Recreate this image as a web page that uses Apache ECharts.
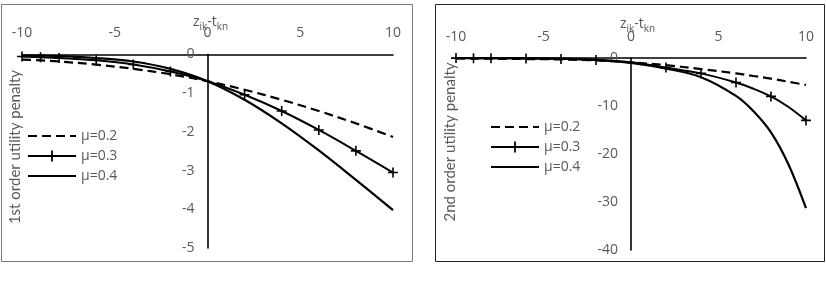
<!DOCTYPE html>
<html><head><meta charset="utf-8">
<script src="https://cdn.jsdelivr.net/npm/echarts@6/dist/echarts.min.js"></script>
<style>html,body{margin:0;padding:0;background:#fff}#c{width:826px;height:294px}</style>
</head><body><div id="c"></div>
<script>
// ---- data ----
const xTicks = [-10, -5, 0, 5, 10];
const legendNames = ['μ=0.2', 'μ=0.3', 'μ=0.4'];

// left panel: 1st order utility penalty
const xLeft = [-10, -9, -8, -6, -4, -2, 0, 2, 4, 6, 8, 10];
const left02 = [-0.13, -0.15, -0.18, -0.26, -0.37, -0.51, -0.69, -0.91, -1.17, -1.46, -1.78, -2.13];
const left03 = [-0.05, -0.07, -0.09, -0.15, -0.26, -0.44, -0.69, -1.04, -1.46, -1.95, -2.49, -3.05];
const left04 = [-0.02, -0.03, -0.04, -0.09, -0.18, -0.37, -0.69, -1.17, -1.78, -2.48, -3.24, -4.02];

// right panel: 2nd order utility penalty
const xRight = [-10, -9, -8, -6, -4, -2, 0, 2, 4, 6, 7, 8, 9, 10];
const right02 = [-0.10, -0.12, -0.15, -0.22, -0.30, -0.50, -0.90, -1.50, -2.30, -3.20, -3.75, -4.30, -4.95, -5.60];
const right03 = [-0.02, -0.03, -0.05, -0.10, -0.20, -0.40, -0.90, -2.00, -3.20, -5.10, -6.40, -8.00, -10.20, -13.00];
const right04 = [-0.01, -0.01, -0.02, -0.05, -0.12, -0.40, -1.00, -2.20, -4.00, -7.90, -11.10, -15.50, -22.20, -31.30];
const markerX = [-10, -9, -8, -6, -4, -2, 2, 4, 6, 8, 10];

const FONT = 'Open Sans';
const NAMEFONT = 'Lato';
const GRAY = '#595959';
const plus = 'path://M4.2,0h1.6v4.2h4.2v1.6h-4.2v4.2h-1.6v-4.2h-4.2v-1.6h4.2z';

function pairs(xs, ys, marked) {
  return xs.map((x, i) => {
    const d = { value: [x, ys[i]] };
    if (marked && markerX.indexOf(x) < 0) d.symbol = 'none';
    return d;
  });
}

function mkSeries(idx, xs, a, b, c) {
  return [
    { name: legendNames[0], type: 'line', xAxisIndex: idx, yAxisIndex: idx, smooth: 0.35,
      symbol: 'circle', showSymbol: false, lineStyle: { color: '#000', width: 2.2, type: [9, 5] },
      itemStyle: { color: '#000', opacity: 0 },
      data: pairs(xs, a, false) },
    { name: legendNames[1], type: 'line', xAxisIndex: idx, yAxisIndex: idx, smooth: 0.35,
      symbol: plus, symbolSize: 10, showAllSymbol: true,
      lineStyle: { color: '#000', width: 2 }, itemStyle: { color: '#000' },
      data: pairs(xs, b, true) },
    { name: legendNames[2], type: 'line', xAxisIndex: idx, yAxisIndex: idx, smooth: 0.35,
      symbol: 'circle', showSymbol: false, lineStyle: { color: '#000', width: 2.2 },
      itemStyle: { color: '#000', opacity: 0 },
      data: pairs(xs, c, false) }
  ];
}

function xAx(gi) {
  return {
    gridIndex: gi, type: 'value', position: 'top', min: -10, max: 10, interval: 5,
    axisLine: { show: true, onZero: false, lineStyle: { color: '#000', width: 1.6 } },
    axisTick: { show: false }, splitLine: { show: false },
    axisLabel: { color: GRAY, fontFamily: FONT, fontSize: 14, margin: 14 }
  };
}
function yAx(gi, min, interval, off) {
  return {
    gridIndex: gi, type: 'value', position: 'left', offset: off, min: min, max: 0, interval: interval,
    axisLine: { show: true, onZero: false, lineStyle: { color: '#000', width: 1.6 } },
    axisTick: { show: false }, splitLine: { show: false },
    axisLabel: { color: GRAY, fontFamily: FONT, fontSize: 14, margin: 13 }
  };
}

const chart = echarts.init(document.getElementById('c'));
chart.setOption({
  animation: false,
  backgroundColor: '#fff',
  grid: [
    { left: 22, top: 54.5, width: 371, height: 193.5 },
    { left: 456, top: 58, width: 350, height: 192 }
  ],
  xAxis: [xAx(0), xAx(1)],
  yAxis: [yAx(0, -5, 1, -185.5), yAx(1, -40, 10, -175)],
  legend: [
    { data: legendNames, orient: 'vertical', left: 27, top: 129, padding: 0,
      itemWidth: 48, itemHeight: 14, itemGap: 6,
      textStyle: { color: GRAY, fontFamily: FONT, fontSize: 14 }, selectedMode: false },
    { data: legendNames, orient: 'vertical', left: 490, top: 120, padding: 0,
      itemWidth: 48, itemHeight: 14, itemGap: 6,
      textStyle: { color: GRAY, fontFamily: FONT, fontSize: 14 }, selectedMode: false }
  ],
  series: mkSeries(0, xLeft, left02, left03, left04).concat(mkSeries(1, xRight, right02, right03, right04)),
  graphic: [
    { type: 'rect', shape: { x: 1.5, y: 4.5, width: 411, height: 257 }, style: { fill: 'none', stroke: '#7a7a7a', lineWidth: 1 }, z: -1 },
    { type: 'rect', shape: { x: 435.5, y: 4.5, width: 389, height: 257 }, style: { fill: 'none', stroke: '#222', lineWidth: 1 }, z: -1 },
    { type: 'text', x: 15, y: 147, rotation: Math.PI / 2,
      style: { text: '1st order utility penalty', fill: GRAY, font: '15px Lato', align: 'center', verticalAlign: 'middle' } },
    { type: 'text', x: 450, y: 142, rotation: Math.PI / 2,
      style: { text: '2nd order utility penalty', fill: GRAY, font: '15px Lato', align: 'center', verticalAlign: 'middle' } },
    { type: 'text', x: 193, y: 13,
      style: { text: 'z{s|ik}-t{s|kn}', fill: GRAY, font: '14px "Open Sans"',
        rich: { s: { fontSize: 10, fontFamily: FONT, fill: GRAY, verticalAlign: 'bottom', padding: [9, 0, 0, 0] } } } },
    { type: 'text', x: 620, y: 15,
      style: { text: 'z{s|ik}-t{s|kn}', fill: GRAY, font: '14px "Open Sans"',
        rich: { s: { fontSize: 10, fontFamily: FONT, fill: GRAY, verticalAlign: 'bottom', padding: [9, 0, 0, 0] } } } }
  ]
});
</script></body></html>
